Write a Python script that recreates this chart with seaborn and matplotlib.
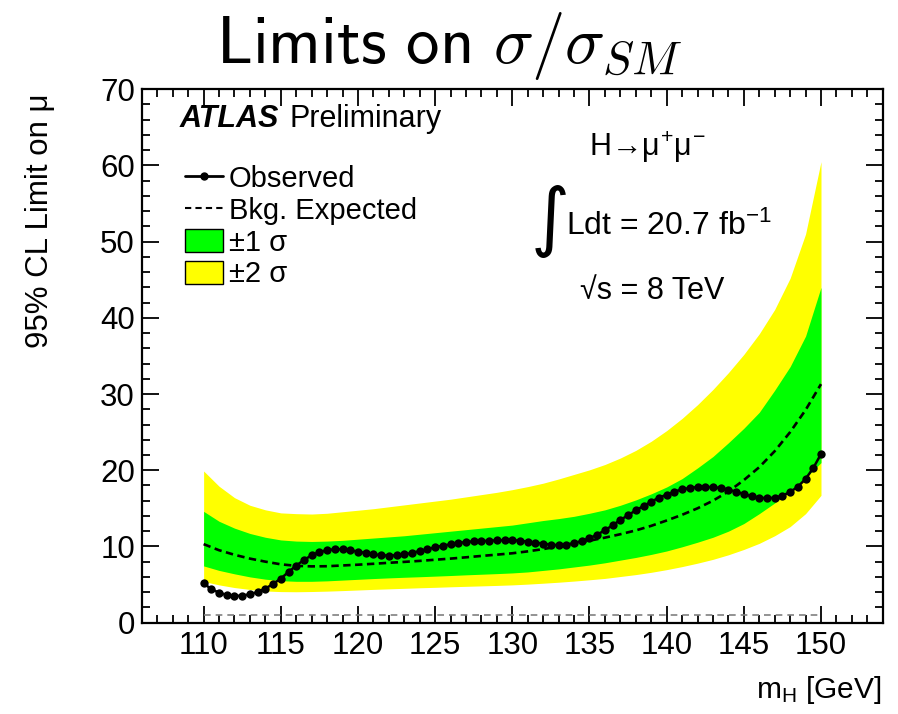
import numpy as np
import pandas as pd
import matplotlib
matplotlib.use('Agg')
import matplotlib.pyplot as plt
import seaborn as sns
from matplotlib.patches import Patch
from matplotlib.lines import Line2D
from matplotlib.ticker import MultipleLocator

# ---------------- data ----------------
mass_obs = np.arange(110.0, 150.01, 0.5)
observed = [5.17, 4.38, 3.94, 3.63, 3.50, 3.55, 3.72, 4.03, 4.46, 5.08,
            5.78, 6.65, 7.48, 8.22, 8.84, 9.27, 9.50, 9.63, 9.63, 9.50,
            9.32, 9.14, 8.97, 8.84, 8.80, 8.84, 8.97, 9.14, 9.40, 9.63,
            9.89, 10.10, 10.28, 10.45, 10.58, 10.67, 10.70, 10.75, 10.80, 10.82,
            10.82, 10.76, 10.63, 10.50, 10.37, 10.24, 10.15, 10.24, 10.41, 10.72,
            11.07, 11.55, 12.12, 12.78, 13.47, 14.09, 14.74, 15.30, 15.87, 16.40,
            16.79, 17.18, 17.50, 17.67, 17.80, 17.84, 17.76, 17.67, 17.45, 17.18,
            16.88, 16.58, 16.40, 16.32, 16.40, 16.66, 17.14, 17.84, 18.85, 20.29,
            22.13]

mass_band = np.arange(110, 151, 1)
expected = [10.3, 9.5, 8.9, 8.4, 8.0, 7.65, 7.45, 7.38, 7.4, 7.5,
            7.6, 7.72, 7.85, 7.97, 8.1, 8.25, 8.4, 8.57, 8.75, 8.92,
            9.1, 9.35, 9.65, 10.0, 10.4, 10.75, 11.15, 11.6, 12.1, 12.7,
            13.4, 14.15, 15.0, 16.0, 17.2, 18.7, 20.4, 22.5, 25.0, 27.9,
            31.3]
plus2 = [19.9, 17.9, 16.4, 15.4, 14.8, 14.4, 14.3, 14.25, 14.35, 14.55,
         14.75, 14.95, 15.2, 15.45, 15.7, 15.95, 16.2, 16.5, 16.8, 17.1,
         17.45, 17.85, 18.3, 18.85, 19.45, 20.05, 20.75, 21.6, 22.6, 23.8,
         25.2, 26.8, 28.6, 30.6, 32.8, 35.2, 37.9, 41.1, 45.2, 51.0,
         60.5]
plus1 = [14.6, 13.3, 12.4, 11.7, 11.2, 10.85, 10.7, 10.65, 10.7, 10.8,
         10.95, 11.1, 11.25, 11.4, 11.6, 11.8, 12.0, 12.2, 12.4, 12.6,
         12.8, 13.1, 13.4, 13.65, 13.95, 14.35, 14.8, 15.4, 16.1, 16.9,
         17.8, 18.9, 20.3, 21.8, 23.6, 25.5, 27.6, 30.5, 33.6, 37.6,
         44.0]
minus1 = [7.44, 6.85, 6.4, 6.0, 5.7, 5.5, 5.42, 5.42, 5.48, 5.58,
          5.68, 5.78, 5.87, 5.95, 6.02, 6.1, 6.18, 6.27, 6.35, 6.43,
          6.52, 6.65, 6.85, 7.05, 7.3, 7.55, 7.85, 8.2, 8.55, 8.95,
          9.4, 9.95, 10.55, 11.2, 12.0, 13.0, 14.3, 15.7, 17.3, 19.0,
          21.0]
minus2 = [5.4, 4.95, 4.6, 4.35, 4.15, 4.07, 4.05, 4.08, 4.13, 4.2,
          4.28, 4.36, 4.43, 4.5, 4.57, 4.63, 4.7, 4.76, 4.82, 4.88,
          4.95, 5.05, 5.17, 5.3, 5.45, 5.62, 5.8, 6.05, 6.3, 6.6,
          6.95, 7.35, 7.8, 8.3, 8.9, 9.6, 10.4, 11.4, 12.6, 14.3,
          16.7]
sm_mass = [110, 150]
sm_value = [1, 1]

# ---------------- style ----------------
sns.set_style('ticks')
plt.rcParams['font.family'] = ['Liberation Sans', 'DejaVu Sans']
plt.rcParams['text.color'] = 'black'
plt.rcParams['axes.labelcolor'] = 'black'
plt.rcParams['xtick.color'] = 'black'
plt.rcParams['ytick.color'] = 'black'
plt.rcParams['mathtext.fontset'] = 'custom'
plt.rcParams['mathtext.rm'] = 'Liberation Sans'
plt.rcParams['mathtext.it'] = 'Liberation Sans'
plt.rcParams['mathtext.bf'] = 'Liberation Sans:bold'

fig = plt.figure(figsize=(8.98, 7.14), dpi=100)
ax = fig.add_axes([0.158, 0.128, 0.825, 0.747])

ax.fill_between(mass_band, minus2, plus2, color='#ffff00', lw=0, zorder=1)
ax.fill_between(mass_band, minus1, plus1, color='#00ff00', lw=0, zorder=2)

df_exp = pd.DataFrame({'m': mass_band, 'v': expected})
sns.lineplot(data=df_exp, x='m', y='v', ax=ax, color='black', lw=1.9,
             linestyle=(0, (2.8, 1.7)), zorder=3)
df_sm = pd.DataFrame({'m': sm_mass, 'v': sm_value})
sns.lineplot(data=df_sm, x='m', y='v', ax=ax, color='#808080', lw=1.2,
             linestyle=(0, (4, 3)), zorder=3)
df_obs = pd.DataFrame({'m': mass_obs, 'v': observed})
sns.lineplot(data=df_obs, x='m', y='v', ax=ax, color='black', lw=1.8,
             marker='o', markersize=6, markeredgewidth=0, zorder=4)

ax.set_xlim(106, 154)
ax.set_ylim(0, 70)
ax.set_xlabel('')
ax.set_ylabel('')
ax.set_xticks([110, 115, 120, 125, 130, 135, 140, 145, 150])
ax.xaxis.set_minor_locator(MultipleLocator(1))
ax.yaxis.set_major_locator(MultipleLocator(10))
ax.yaxis.set_minor_locator(MultipleLocator(2))
ax.tick_params(which='both', direction='in', top=True, right=True,
               width=1.3, colors='black', labelsize=22.5)
ax.tick_params(which='major', length=12)
ax.tick_params(which='minor', length=6)
ax.tick_params(axis='x', pad=6)
ax.tick_params(axis='y', pad=5)
for s in ax.spines.values():
    s.set_linewidth(1.6)
    s.set_color('black')

# legend
handles = [
    Line2D([], [], color='black', lw=2, marker='o', markersize=5),
    Line2D([], [], color='black', lw=1.5, linestyle=(0, (3, 2))),
    Patch(facecolor='#00ff00', edgecolor='black', lw=1),
    Patch(facecolor='#ffff00', edgecolor='black', lw=1),
]
labels = ['Observed', 'Bkg. Expected', '±1 σ', '±2 σ']
ax.legend(handles, labels, loc='upper left', frameon=False, fontsize=21,
          bbox_to_anchor=(185 / 898, 1 - 165 / 714),
          bbox_transform=fig.transFigure, borderpad=0, borderaxespad=0,
          handlelength=1.3, handleheight=0.85, handletextpad=0.2,
          labelspacing=0.13)

# texts
fig.text(180 / 898, 1 - 127 / 714, 'ATLAS', fontsize=22, weight='bold',
         style='italic', va='baseline')
fig.text(289 / 898, 1 - 127 / 714, 'Preliminary', fontsize=22, va='baseline')
fig.text(648 / 898, 1 - 156 / 714, r'H→$\mu^{+}\mu^{-}$',
         fontsize=22, ha='center', va='baseline')
fig.text(531 / 898, 1 - 221 / 714, '∫', fontsize=54, ha='left', va='center',
         family=['DejaVu Sans'])
fig.text(566 / 898, 1 - 235 / 714, r'Ldt = 20.7 fb$^{-1}$', fontsize=23,
         va='baseline')
fig.text(580 / 898, 1 - 299 / 714, '√s = 8 TeV', fontsize=22, va='baseline')

fig.text(0.5, 1 - 63 / 714, r'$\mathsf{Limits\ on}\ \sigma/\sigma_{SM}$',
         fontsize=48, ha='center', va='baseline', math_fontfamily='cm',
         color='black')
fig.text(40 / 898, 1 - 93 / 714, '95% CL Limit on μ', fontsize=22.5,
         rotation=90, ha='center', va='top')
fig.text(882 / 898, 1 - 690 / 714, r'm$_{\rm H}$ [GeV]', fontsize=21.5,
         ha='right', va='center')

fig.savefig('out.png', dpi=100)
